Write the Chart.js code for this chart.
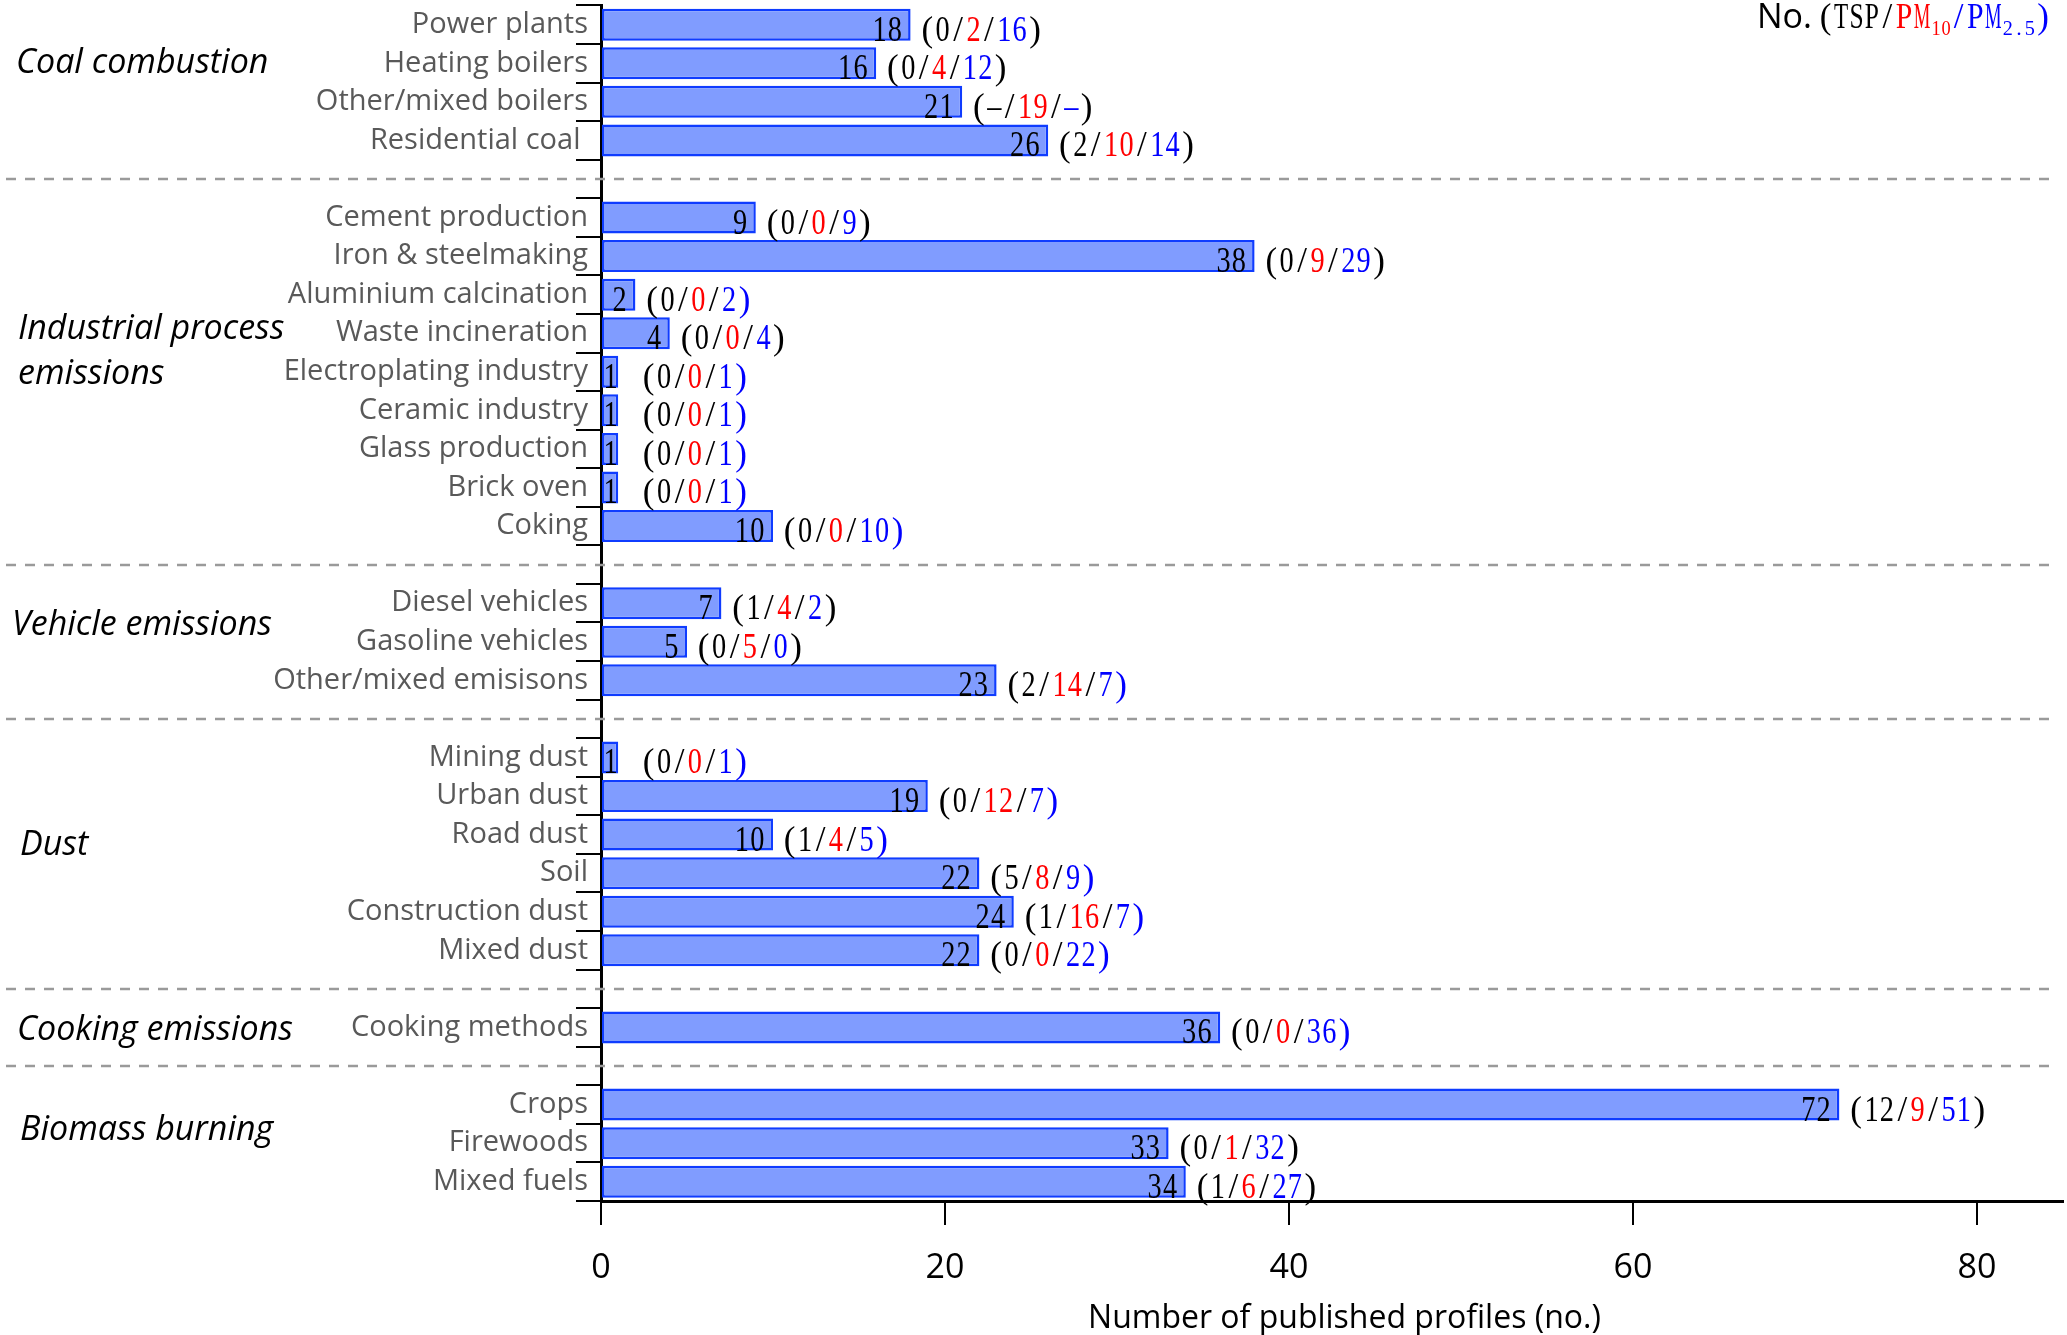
<!DOCTYPE html>
<html><head><meta charset="utf-8">
<script src="https://cdn.jsdelivr.net/npm/chart.js@4"></script>
<style>html,body{margin:0;padding:0;background:#fff;}#wrap{width:2067px;height:1335px;position:relative}</style>
</head><body><div id="wrap"><canvas id="c"></canvas></div>
<script>
// ---------- DATA ----------
const categories = ['Power plants','Heating boilers','Other/mixed boilers','Residential coal ','',
  'Cement production','Iron & steelmaking','Aluminium calcination','Waste incineration','Electroplating industry','Ceramic industry','Glass production','Brick oven','Coking','',
  'Diesel vehicles','Gasoline vehicles','Other/mixed emisisons','',
  'Mining dust','Urban dust','Road dust','Soil','Construction dust','Mixed dust','',
  'Cooking methods','',
  'Crops','Firewoods','Mixed fuels'];
const totals   = [18,16,21,26,null, 9,38,2,4,1,1,1,1,10,null, 7,5,23,null, 1,19,10,22,24,22,null, 36,null, 72,33,34];
const tspCounts  = [0,0,null,2,null, 0,0,0,0,0,0,0,0,0,null, 1,0,2,null, 0,0,1,5,1,0,null, 0,null, 12,0,1];
const pm10Counts = [2,4,19,10,null, 0,9,0,0,0,0,0,0,0,null, 4,5,14,null, 0,12,4,8,16,0,null, 0,null, 9,1,6];
const pm25Counts = [16,12,null,14,null, 9,29,2,4,1,1,1,1,10,null, 2,0,7,null, 1,7,5,9,7,22,null, 36,null, 51,32,27];
const groupNames = [['Coal combustion'],['Industrial process','emissions'],['Vehicle emissions'],['Dust'],['Cooking emissions'],['Biomass burning']];
const separatorRows = [4,14,18,25,27];
const xTickValues = [0,20,40,60,80];

// ---------- LAYOUT / STYLE ----------
const groupLabelRow = [1.0, 8.48, 15.58, 21.27, 26.08, 28.66];
const groupLabelX = [16, 18, 12, 20, 17, 20];
const closeParenBlueRows = [7,9,10,11,12,13,17,19,20,21,22,23,24,26];
const SERIF = '"Liberation Serif","Times New Roman",serif';
const SANS = '"Open Sans","Noto Sans",sans-serif';
const ADV = 15.4, VSIZE = 35;

function drawCells(ctx, parts, x, baseline) {
  for (const p of parts) {
    const size = p.size || VSIZE, adv = p.adv || ADV;
    ctx.font = size + 'px ' + SERIF;
    ctx.fillStyle = p.color;
    ctx.textAlign = 'left';
    ctx.textBaseline = 'alphabetic';
    for (const ch of p.text) {
      const w = ctx.measureText(ch).width;
      const maxW = adv * 0.92;
      if (w > maxW) {
        const k = maxW / w;
        ctx.save();
        ctx.translate(x + (adv - maxW) / 2, baseline + (p.dy || 0));
        ctx.scale(k, 1);
        ctx.fillText(ch, 0, 0);
        ctx.restore();
      } else {
        ctx.fillText(ch, x + (adv - w) / 2, baseline + (p.dy || 0));
      }
      x += adv;
    }
  }
  return x;
}
function cellsWidth(parts) { return parts.reduce((s, p) => s + [...p.text].length * (p.adv || ADV), 0); }

const decoPlugin = {
  id: 'deco',
  beforeDatasetsDraw(chart) {
    const ctx = chart.ctx, ys = chart.scales.y;
    ctx.save();
    ctx.strokeStyle = '#9a9a9a';
    ctx.lineWidth = 2.5;
    ctx.setLineDash([10, 9]);
    separatorRows.forEach(r => {
      const y = Math.round(ys.getPixelForValue(r));
      ctx.beginPath(); ctx.moveTo(6, y); ctx.lineTo(2052, y); ctx.stroke();
    });
    ctx.restore();
  },
  afterDatasetsDraw(chart) {
    const ctx = chart.ctx, xs = chart.scales.x;
    const meta = chart.getDatasetMeta(0);
    const axisX = xs.getPixelForValue(0);
    ctx.save();
    const fmt = v => v == null ? '–' : String(v);
    meta.data.forEach((bar, i) => {
      if (totals[i] == null) return;
      const baseline = bar.y + 16;
      const vparts = [{ text: String(totals[i]), color: '#000' }];
      const vw = cellsWidth(vparts);
      const vx = Math.max(bar.x - 8 - vw, axisX + 2);
      drawCells(ctx, vparts, vx, baseline);
      const closeCol = closeParenBlueRows.includes(i) ? '#0000ff' : '#000';
      const aparts = [
        { text: '(', color: '#000' }, { text: fmt(tspCounts[i]), color: '#000' }, { text: '/', color: '#000' },
        { text: fmt(pm10Counts[i]), color: '#ff0000' }, { text: '/', color: '#000' },
        { text: fmt(pm25Counts[i]), color: '#0000ff' }, { text: ')', color: closeCol }
      ];
      const ax = Math.max(bar.x + 9, axisX + 40);
      drawCells(ctx, aparts, ax, baseline);
    });
    ctx.restore();
  },
  afterDraw(chart) {
    const ctx = chart.ctx, ys = chart.scales.y;
    ctx.save();
    ctx.font = 'italic 34px ' + SANS;
    ctx.fillStyle = '#000';
    ctx.textAlign = 'left';
    ctx.textBaseline = 'middle';
    groupNames.forEach((lines, g) => {
      const yc = ys.getPixelForValue(groupLabelRow[g]);
      const lh = 45;
      lines.forEach((t, k) => {
        ctx.fillText(t, groupLabelX[g], yc + (k - (lines.length - 1) / 2) * lh);
      });
    });
    ctx.font = '34px ' + SANS;
    ctx.fillStyle = '#000';
    ctx.textBaseline = 'alphabetic';
    ctx.fillText('No.', 1757, 28);
    drawCells(ctx, [
      { text: '(TSP/', color: '#000' },
      { text: 'PM', color: '#ff0000', adv: 18 },
      { text: '10', color: '#ff0000', size: 22, adv: 10, dy: 7 },
      { text: '/', color: '#0000ff' },
      { text: 'PM', color: '#0000ff', adv: 18 },
      { text: '2.5', color: '#0000ff', size: 22, adv: 11, dy: 7 },
      { text: ')', color: '#0000ff' }
    ], 1818, 28);
    ctx.restore();
  }
};

new Chart(document.getElementById('c'), {
  type: 'bar',
  data: {
    labels: categories,
    datasets: [{
      data: totals,
      backgroundColor: '#809cff',
      borderColor: '#0f3cff',
      borderWidth: 2.5,
      borderSkipped: false,
      barPercentage: 0.83,
      categoryPercentage: 1.0
    }]
  },
  options: {
    indexAxis: 'y',
    responsive: true,
    maintainAspectRatio: false,
    animation: false,
    devicePixelRatio: 1,
    layout: { padding: { top: 2, right: 4, left: 0, bottom: 0 } },
    plugins: { legend: { display: false }, tooltip: { enabled: false } },
    scales: {
      y: {
        type: 'category',
        afterFit: s => { s.width = 601; },
        border: { display: true, color: '#000', width: 3 },
        grid: { display: true, drawOnChartArea: false, drawTicks: true, tickLength: 25, color: '#000', lineWidth: 2, offset: true },
        ticks: { autoSkip: false, color: '#595959', padding: -12, font: { family: SANS, size: 29 } }
      },
      x: {
        type: 'linear',
        min: 0, max: 85,
        afterFit: s => { s.height = 134; },
        afterBuildTicks: s => { s.ticks = xTickValues.map(v => ({ value: v })); },
        border: { display: true, color: '#000', width: 3 },
        grid: { display: true, drawOnChartArea: false, drawTicks: true, tickLength: 24, color: '#000', lineWidth: 2 },
        ticks: { color: '#000', padding: 23, font: { family: SANS, size: 34 } },
        title: { display: true, text: '   Number of published profiles (no.)', color: '#000', font: { family: SANS, size: 32, lineHeight: 1.0 }, padding: { top: 0, bottom: 0 } }
      }
    }
  },
  plugins: [decoPlugin]
});
</script>
</body></html>
